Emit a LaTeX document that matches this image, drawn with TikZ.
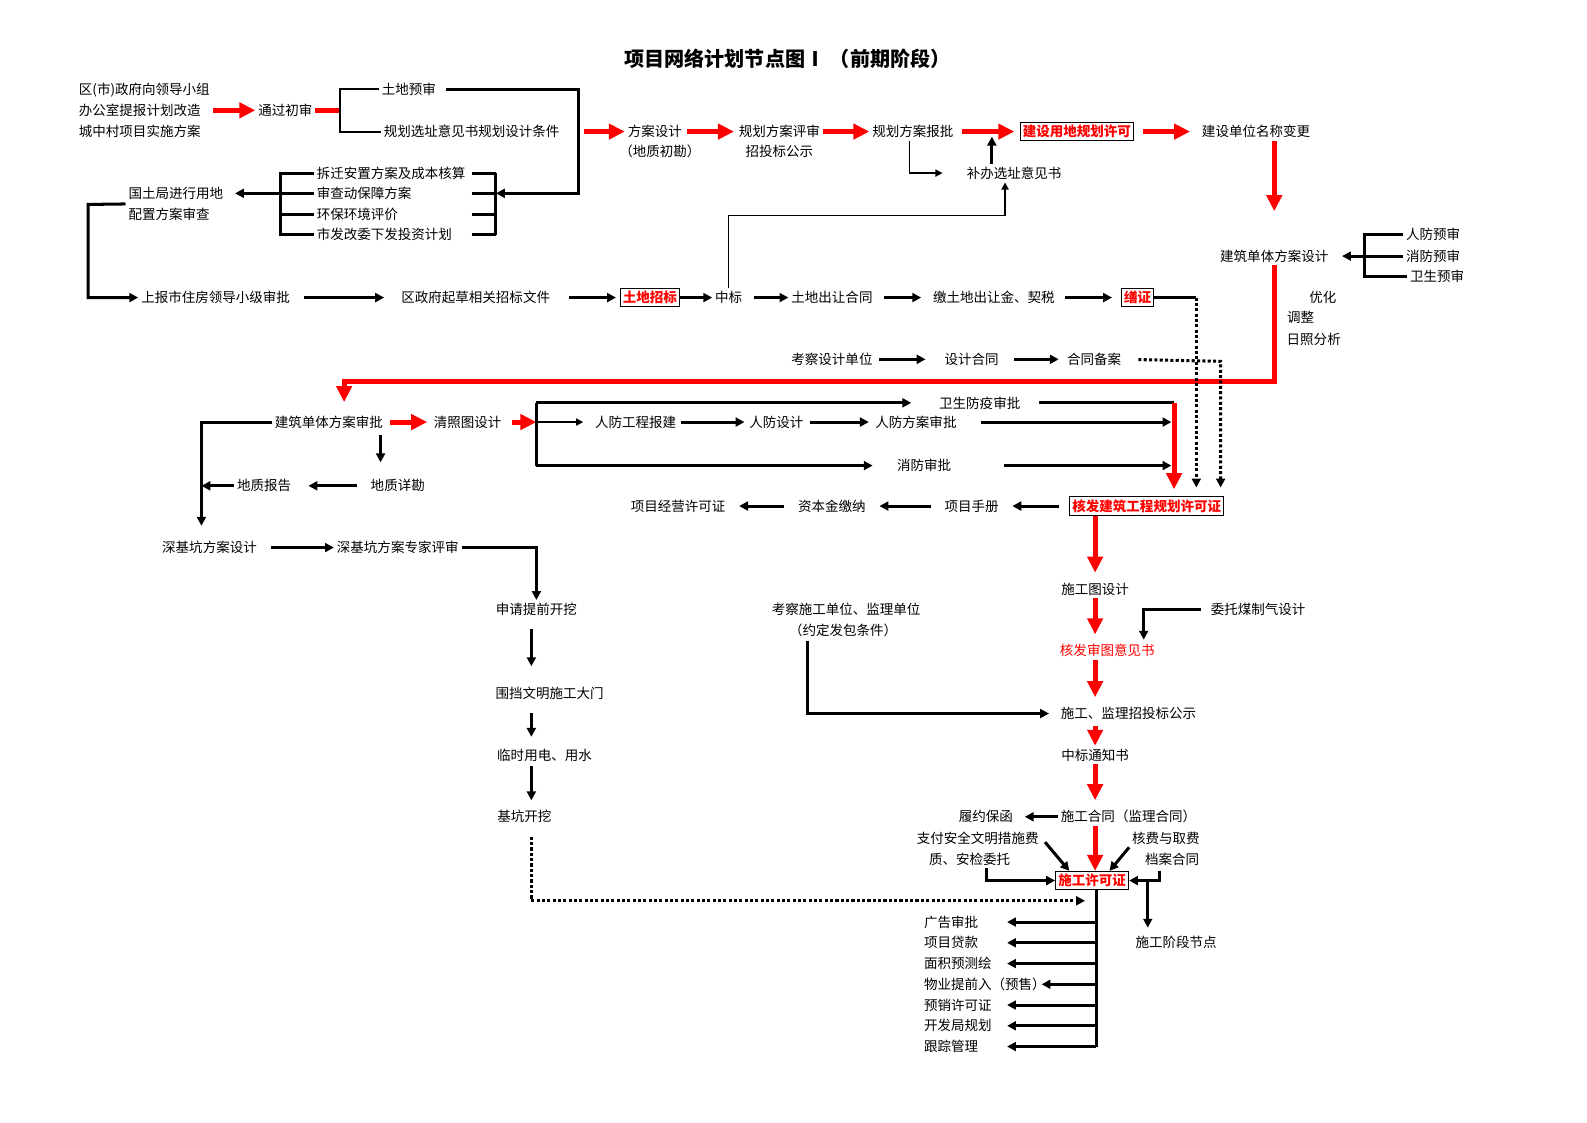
\documentclass[tikz,border=0pt]{standalone}
\usepackage{fontspec}
\setmainfont{Noto Sans CJK SC}
\usepackage{xcolor}
\usepackage{tikz}
\usetikzlibrary{arrows.meta}
\tikzset{
    lbl/.style = {inner sep=1.5pt, font=\fontsize{7.6}{11.7}\selectfont},
    rbox/.style = {lbl, draw=black, line width=0.6pt, text=red, font=\fontsize{7.6}{11.7}\selectfont\bfseries},
    ttl/.style = {inner sep=0pt, font=\fontsize{11.3}{13}\selectfont\bfseries},
    thk/.style = {line width=1.7pt},
    brk/.style = {line width=1.1pt},
    thn/.style = {line width=0.85pt, -{Triangle[length=4pt, width=4pt]}},
    blk/.style = {thk, -{Triangle[length=5pt, width=5pt]}},
    redln/.style = {red, line width=2.8pt},
    redarr/.style = {redln, -{Triangle[length=9pt, width=8.5pt]}},
    dts/.style = {line width=1.7pt, dash pattern=on 1.7pt off 1.3pt, -{Triangle[length=5pt, width=5pt]}},
    gap/.style = {shorten <=#1, shorten >=#1}
}
\begin{document}
\begin{tikzpicture}[x=0.02cm, y=-0.02cm]
    \useasboundingbox (0,0) rectangle (1568,1109);
    \node[ttl] (title) at (778,58) {项目网络计划节点图Ⅰ （前期阶段）};

    \node[lbl, align=left, anchor=west] (sq) at (75,109) {区(市)政府向领导小组\\办公室提报计划改造\\城中村项目实施方案};
    \node[lbl] (csh) at (282,109) {通过初审};
    \node[lbl] (tdys) at (404,88) {土地预审};
    \node[lbl] (ghxz) at (466,130) {规划选址意见书规划设计条件};
    \coordinate (b1) at (336,109);
    \coordinate (b2) at (490,191);
    \coordinate (c2) at (572,191);
    \coordinate (c3) at (572,130);
    \draw[redarr] (sq.east) -- (csh.west);
    \draw[redln] (csh.east) -- (b1);
    \draw[brk] (tdys.west) -| (b1) |- (ghxz.west);
    \draw[blk, shorten <=4pt] (tdys.east) -| (c2) -- (b2);

    \node[lbl] (fasj) at (647,130) {方案设计};
    \node[lbl] (fasj2) at (652,150) {（地质初勘）};
    \node[lbl] (ghps) at (770,130) {规划方案评审};
    \node[lbl] (ghps2) at (770,150) {招投标公示};
    \node[lbl] (ghbp) at (902,130) {规划方案报批};
    \node[rbox] (ydxk) at (1064,130) {建设用地规划许可};
    \node[lbl] (mcbg) at (1241,130) {建设单位名称变更};
    \node[lbl] (bbxz) at (1002,171) {补办选址意见书};
    \draw[redarr, shorten <=3pt] (c3) -- (fasj.west);
    \draw[redarr, gap=1pt] (fasj.east) -- (ghps.west);
    \draw[redarr] (ghps.east) -- (ghbp.west);
    \draw[redarr, gap=3pt] (ghbp.east) -- (ydxk.west);
    \draw[redarr, gap=5pt] (ydxk.east) -- (mcbg.west);
    \draw[thn, shorten >=12pt] ([xshift=-2pt]ghbp.south) |- (bbxz.west);
    \coordinate (c1) at (980,135);
    \draw[blk] (c1 |- bbxz.north) -- (c1);

    \node[lbl, align=left, anchor=west] (gtj) at (124,201.5) {国土局进行用地\\配置方案审查};
    \node[lbl, anchor=west] (cqaz) at (310,171) {拆迁安置方案及成本核算};
    \node[lbl, anchor=west] (scd) at (310,191) {审查动保障方案};
    \node[lbl, anchor=west] (hbpj) at (310,212) {环保环境评价};
    \node[lbl, anchor=west] (fgw) at (310,232) {市发改委下发投资计划};
    \coordinate (b5) at (277,191);
    \coordinate (c21) at (466,0);
    \draw[thk] (cqaz.west) -| (b5) |- (fgw.west);
    \draw[thk] (hbpj.west) -- (hbpj.west -| b5);
    \draw[blk, shorten >=5pt] (scd.west) -- (b5 -| gtj.east);
    \draw[thk] (cqaz.east -| b2) |- (fgw.east -| b2);
    \foreach \nm in {cqaz, scd, hbpj, fgw}
        \draw[thk] (\nm.east -| c21) -- (\nm.east -| b2);

    \node[lbl] (sbsz) at (213,294) {上报市住房领导小级审批};
    \node[lbl] (qzf) at (470,294) {区政府起草相关招标文件};
    \node[rbox] (tdzb) at (642,294) {土地招标};
    \node[lbl] (zb) at (720,294) {中标};
    \node[lbl] (tdcr) at (822,294) {土地出让合同};
    \node[lbl] (jntd) at (982,294) {缴土地出让金、契税};
    \node[rbox] (sz) at (1124,294) {缮证};
    \coordinate (c5) at (87,202);
    \draw[blk] (gtj.west) -- (c5) |- (sbsz.west);
    \draw[blk, shorten <=6pt, shorten >=8pt] (sbsz.east) -- (qzf.west);
    \draw[blk, shorten <=9pt, shorten >=2pt] (qzf.east) -- (tdzb.west);
    \draw[blk] (tdzb.east) -- (zb.west);
    \draw[blk, shorten <=5pt] (zb.east) -- (tdcr.west);
    \draw[blk, gap=5pt] (tdcr.east) -- (jntd.west);
    \draw[blk, shorten <=4pt, shorten >=5pt] (jntd.east) -- (sz.west);
    \coordinate (k1) at (993,213);
    \draw[thn] (zb.north) |- (k1) -- (k1 |- bbxz.south);

    \node[lbl] (dtsj) at (1259,253) {建筑单体方案设计};
    \node[lbl] (rfys) at (1416,232) {人防预审};
    \node[lbl] (xfys) at (1416,253) {消防预审};
    \node[lbl] (wsys) at (1420,273) {卫生预审};
    \coordinate (b3) at (1348,253);
    \draw[redarr, shorten >=20pt] (dtsj.north |- mcbg.south) -- (dtsj.north);
    \draw[thk] (rfys.west) -| (b3) |- (wsys.west);
    \draw[blk, shorten >=6pt] (xfys.west) -- (dtsj.east);
    \node[lbl] (yh) at (1307,294) {优化};
    \node[lbl] (tz) at (1285,314) {调整};
    \node[lbl] (rzfx) at (1298,335) {日照分析};

    \node[lbl] (kcsj) at (822,355) {考察设计单位};
    \node[lbl] (sjht) at (960,355) {设计合同};
    \node[lbl] (htba) at (1081,355) {合同备案};
    \draw[blk, shorten <=2pt, shorten >=9pt] (kcsj.east) -- (sjht.west);
    \draw[blk, shorten <=7pt, shorten >=3pt] (sjht.east) -- (htba.west);

    \node[lbl] (jzsp) at (325,417) {建筑单体方案审批};
    \node[lbl] (qzt) at (462,417) {清照图设计};
    \coordinate (c4) at (340,377);
    \draw[redarr, shorten >=6pt] (dtsj.south) |- (c4) -- (c4 |- jzsp.north);
    \draw[redarr, gap=2pt] (jzsp.east) -- (qzt.west);
    \coordinate (b4) at (530,417);
    \coordinate (b4t) at (530,398);
    \coordinate (b4b) at (530,460);
    \draw[redarr, shorten <=4pt] (qzt.east) -- (b4);
    \draw[thk] (b4t) -- (b4b);

    \node[lbl] (wsfy) at (968,398) {卫生防疫审批};
    \node[lbl] (rfgc) at (628,417) {人防工程报建};
    \node[lbl] (rfsj) at (767,417) {人防设计};
    \node[lbl] (rfsp) at (905,417) {人防方案审批};
    \node[lbl] (xfsp) at (913,460) {消防审批};
    \draw[blk, shorten >=14pt] (b4t) -- (wsfy.west);
    \draw[thn, shorten >=5pt] (b4) -- (rfgc.west);
    \draw[blk, gap=1pt] (rfgc.east) -- (rfsj.west);
    \draw[blk, gap=2pt] (rfsj.east) -- (rfsp.west);
    \draw[blk, shorten >=12pt] (b4b) -- (xfsp.west);

    \node[rbox] (hfjz) at (1133,500) {核发建筑工程规划许可证};
    \coordinate (c6) at (1182,294);
    \coordinate (c7) at (1206,357);
    \coordinate (c8) at (1160,398);
    \draw[thk] (sz.east) -- (c6);
    \draw[dts, shorten >=5pt] (c6) -- (c6 |- hfjz.north);
    \draw[dts, shorten <=8pt, shorten >=5pt] (htba.east) -- (c7) -- (c7 |- hfjz.north);
    \draw[thk, shorten <=9pt] (wsfy.east) -- (c8);
    \draw[redarr, shorten >=4pt] (c8) -- (c8 |- hfjz.north);
    \draw[blk, shorten <=12pt, shorten >=1.5pt] (rfsp.east) -- (rfsp.east -| c8);
    \draw[blk, shorten <=28pt, shorten >=1.5pt] (xfsp.east) -- (xfsp.east -| c8);

    \node[lbl] (dzxk) at (393,480) {地质详勘};
    \node[lbl] (dzbg) at (261,480) {地质报告};
    \node[lbl] (xmsc) at (960,500) {项目手册};
    \node[lbl] (zbj) at (822,500) {资本金缴纳};
    \node[lbl] (jyxk) at (670,500) {项目经营许可证};
    \node[lbl] (sjk) at (207,541) {深基坑方案设计};
    \node[lbl] (sjkps) at (393,541) {深基坑方案专家评审};
    \coordinate (c10) at (376,430);
    \coordinate (c11) at (199,417);
    \draw[blk, shorten >=8pt] (c10) -- (c10 |- dzxk.north);
    \draw[blk, shorten <=6pt, shorten >=8pt] (dzxk.west) -- (dzbg.east);
    \draw[blk, shorten >=7pt] (jzsp.west) -- (c11) -- (c11 |- sjk.north);
    \draw[blk] (dzbg.west) -- (dzbg.west -| c11);
    \draw[blk, shorten <=6pt, shorten >=6pt] (hfjz.west) -- (xmsc.east);
    \draw[blk, gap=6pt] (xmsc.west) -- (zbj.east);
    \draw[blk, gap=6pt] (zbj.west) -- (jyxk.east);

    \node[lbl] (sqkw) at (530,602) {申请提前开挖};
    \node[lbl] (wd) at (543,685) {围挡文明施工大门};
    \node[lbl] (lsyd) at (538,746) {临时用电、用水};
    \node[lbl] (jkkw) at (518,807) {基坑开挖};
    \draw[blk, shorten <=6pt] (sjk.east) -- (sjkps.west);
    \draw[blk] (sjkps.east) -| (sqkw.north);
    \coordinate (c12) at (525,870);
    \coordinate (c13) at (1072,890);
    \draw[blk, shorten <=6pt, shorten >=10pt] (sqkw.south -| c12) -- (wd.north -| c12);
    \draw[blk, shorten <=6pt, shorten >=5pt] (wd.south -| c12) -- (lsyd.north -| c12);
    \draw[blk, shorten <=1pt, shorten >=4pt] (lsyd.south -| c12) -- (jkkw.north -| c12);
    \draw[dts, shorten <=6pt] (jkkw.south -| c12) |- (c13);

    \node[lbl] (sgtsj) at (1082,582) {施工图设计};
    \node[lbl, text=red] (hfst) at (1094,643) {核发审图意见书};
    \node[lbl] (wtmq) at (1243,602) {委托煤制气设计};
    \node[lbl] (sgjl) at (1115,705) {施工、监理招投标公示};
    \node[lbl] (kcsg) at (836,602) {考察施工单位、监理单位};
    \node[lbl] (kcsg2) at (833,623) {（约定发包条件）};
    \node[lbl] (zbtz) at (1082,746) {中标通知书};
    \node[lbl] (sght) at (1115,807) {施工合同（监理合同）};
    \node[lbl] (lybh) at (974,807) {履约保函};
    \node[lbl] (zfaq) at (966,828) {支付安全文明措施费};
    \node[lbl] (zajc) at (958,849) {质、安检委托};
    \node[rbox] (sgxk) at (1079,870) {施工许可证};
    \node[lbl] (hfqf) at (1152,828) {核费与取费};
    \node[lbl] (daht) at (1158,849) {档案合同};
    \node[lbl] (sgjd) at (1162,931) {施工阶段节点};
    \draw[redarr, shorten >=4pt] (hfjz.south -| sgtsj.north) -- (sgtsj.north);
    \draw[redarr, shorten >=4pt] (sgtsj.south) -- (sgtsj.south |- hfst.north);
    \draw[redarr, shorten >=4pt] (hfst.south -| sgtsj.south) -- (sgjl.north -| sgtsj.south);
    \draw[redarr, shorten <=2pt] (sgjl.south -| zbtz.north) -- (zbtz.north);
    \draw[redarr, shorten >=4pt] (zbtz.south) -- (zbtz.south |- sght.north);
    \draw[redarr] (sght.south -| zbtz.south) -- (sgxk.north -| zbtz.south);
    \coordinate (c14) at (1130,632);
    \coordinate (c15) at (798,633);
    \coordinate (c16) at (975,858);
    \coordinate (c17) at (1146,861);
    \coordinate (c18) at (1134,871);
    \draw[blk, shorten <=4pt] (wtmq.west) -| (c14);
    \draw[blk, shorten >=5pt] (c15) |- (sgjl.west);
    \draw[blk, shorten >=5pt] (sght.west) -- (lybh.east);
    \draw[blk, shorten <=3pt] (zfaq.east) -- ([xshift=8pt]sgxk.north west);
    \draw[blk] (hfqf.south west) -- ([xshift=-11pt]sgxk.north east);
    \draw[blk] (c16) |- (sgxk.west);
    \draw[blk] (c17) |- (sgxk.east);
    \draw[blk, shorten >=3pt] (c18) -- (c18 |- sgjd.north);

    \coordinate (c19) at (1083,1034);
    \coordinate (c20) at (995,0);
    \draw[thk] (sgxk.south -| c19) -- (c19);
    \foreach \nm/\txt [count=\i from 0] in {ggsp/广告审批, xmdk/项目贷款, mjyc/面积预测绘, wytq/物业提前入（预售）, yxxk/预销许可证, kfgh/开发局规划, gzgl/跟踪管理}
        \node[lbl, anchor=west] (\nm) at (910, 911+20.5*\i) {\txt};
    \foreach \nm in {ggsp, xmdk, mjyc, yxxk, kfgh, gzgl}
        \draw[blk] (\nm.east -| c19) -- (\nm.east -| c20);
    \draw[blk, shorten >=-4pt] (wytq.east -| c19) -- (wytq.east);
\end{tikzpicture}
\end{document}
